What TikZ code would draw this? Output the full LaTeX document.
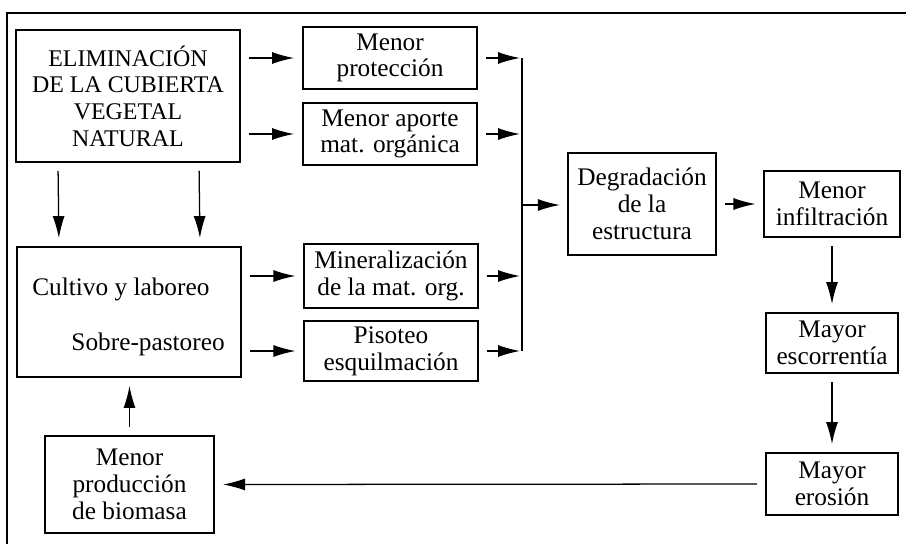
\documentclass[tikz,border=0pt]{standalone}
\usepackage{fontspec}
\setmainfont{Liberation Serif}
\usetikzlibrary{arrows.meta}

\begin{document}
\begin{tikzpicture}[x=0.025cm,y=-0.025cm,
  caja/.style={draw,line width=1.3pt,align=center,inner sep=0pt,
    font=\fontsize{18}{19}\selectfont},
  texto/.style={inner sep=0pt,font=\fontsize{18}{19}\selectfont},
  flecha/.style={-{Latex[length=0.55cm,width=0.3cm]},line width=0.9pt,
    shorten <=0.2cm,shorten >=0.2cm},
  linea/.style={line width=0.9pt}]
\useasboundingbox (0,0) rectangle (906,544);
\draw[linea] (7,544) -- (7,13) -- (906,13);

% cajas de la izquierda
\node[caja,minimum width=5.6cm,minimum height=3.3cm,
  font=\fontsize{17}{19}\selectfont] (elim) at (128,96) {ELIMINACIÓN\\DE LA CUBIERTA\\VEGETAL\\NATURAL};
\node[caja,minimum width=5.6cm,minimum height=3.25cm] (cult) at (129,312) {};
\node[texto,anchor=base west] (cultivo) at (32,295) {Cultivo y laboreo};
\node[texto,anchor=base east] (pastoreo) at (225,350) {Sobre-pastoreo};
\node[caja,minimum width=4.23cm,minimum height=2.43cm] (biom) at (129.5,484.5) {Menor\\producción\\de biomasa};

% cajas del centro
\node[caja,minimum width=4.35cm,minimum height=1.55cm] (prot) at (390,58) {Menor\\protección};
\node[caja,minimum width=4.35cm,minimum height=1.55cm] (apor) at (390,134) {Menor aporte\\mat. orgánica};
\node[caja,minimum width=4.33cm,minimum height=1.58cm] (mine) at (391,276) {Mineralización\\de la mat. org.};
\node[caja,minimum width=4.33cm,minimum height=1.5cm] (piso) at (391,351) {Pisoteo\\esquilmación};

% cajas de la derecha
\node[caja,minimum width=3.7cm,minimum height=2.53cm] (degr) at (642,204) {Degradación\\de la\\estructura};
\node[caja,minimum width=3.38cm,minimum height=1.63cm] (infi) at (832,204) {Menor\\infiltración};
\node[caja,minimum width=3.3cm,minimum height=1.5cm] (esco) at (832,343) {Mayor\\escorrentía};
\node[caja,minimum width=3.3cm,minimum height=1.55cm] (eros) at (832,484) {Mayor\\erosión};

% flechas
\draw[flecha] (elim.east |- prot.west) -- (prot.west);
\draw[flecha] (elim.east |- apor.west) -- (apor.west);
\draw[flecha] ([xshift=-1.75cm]elim.south) -- ([xshift=-1.75cm]cult.north);
\draw[flecha] ([xshift=1.775cm]elim.south) -- ([xshift=1.775cm]cult.north);
\draw[flecha] (cult.east |- mine.west) -- (mine.west);
\draw[flecha] (cult.east |- piso.west) -- (piso.west);

\coordinate (nudo) at (522,205);
\draw[linea] (prot.east -| nudo) -- (piso.east -| nudo);
\foreach \n in {prot,apor,mine,piso}
  \draw[flecha,shorten >=0.05cm] (\n.east) -- (\n.east -| nudo);
\draw[flecha,shorten <=0pt,shorten >=0.18cm] (nudo) -- (nudo -| degr.west);

\draw[flecha] (degr.east) -- (infi.west);
\draw[flecha] (infi.south) -- (esco.north);
\draw[flecha] (esco.south) -- (eros.north);
\draw[flecha] (eros.west) -- (biom.east);
\draw[flecha] (biom.north) -- (biom.north |- cult.south);
\end{tikzpicture}
\end{document}
